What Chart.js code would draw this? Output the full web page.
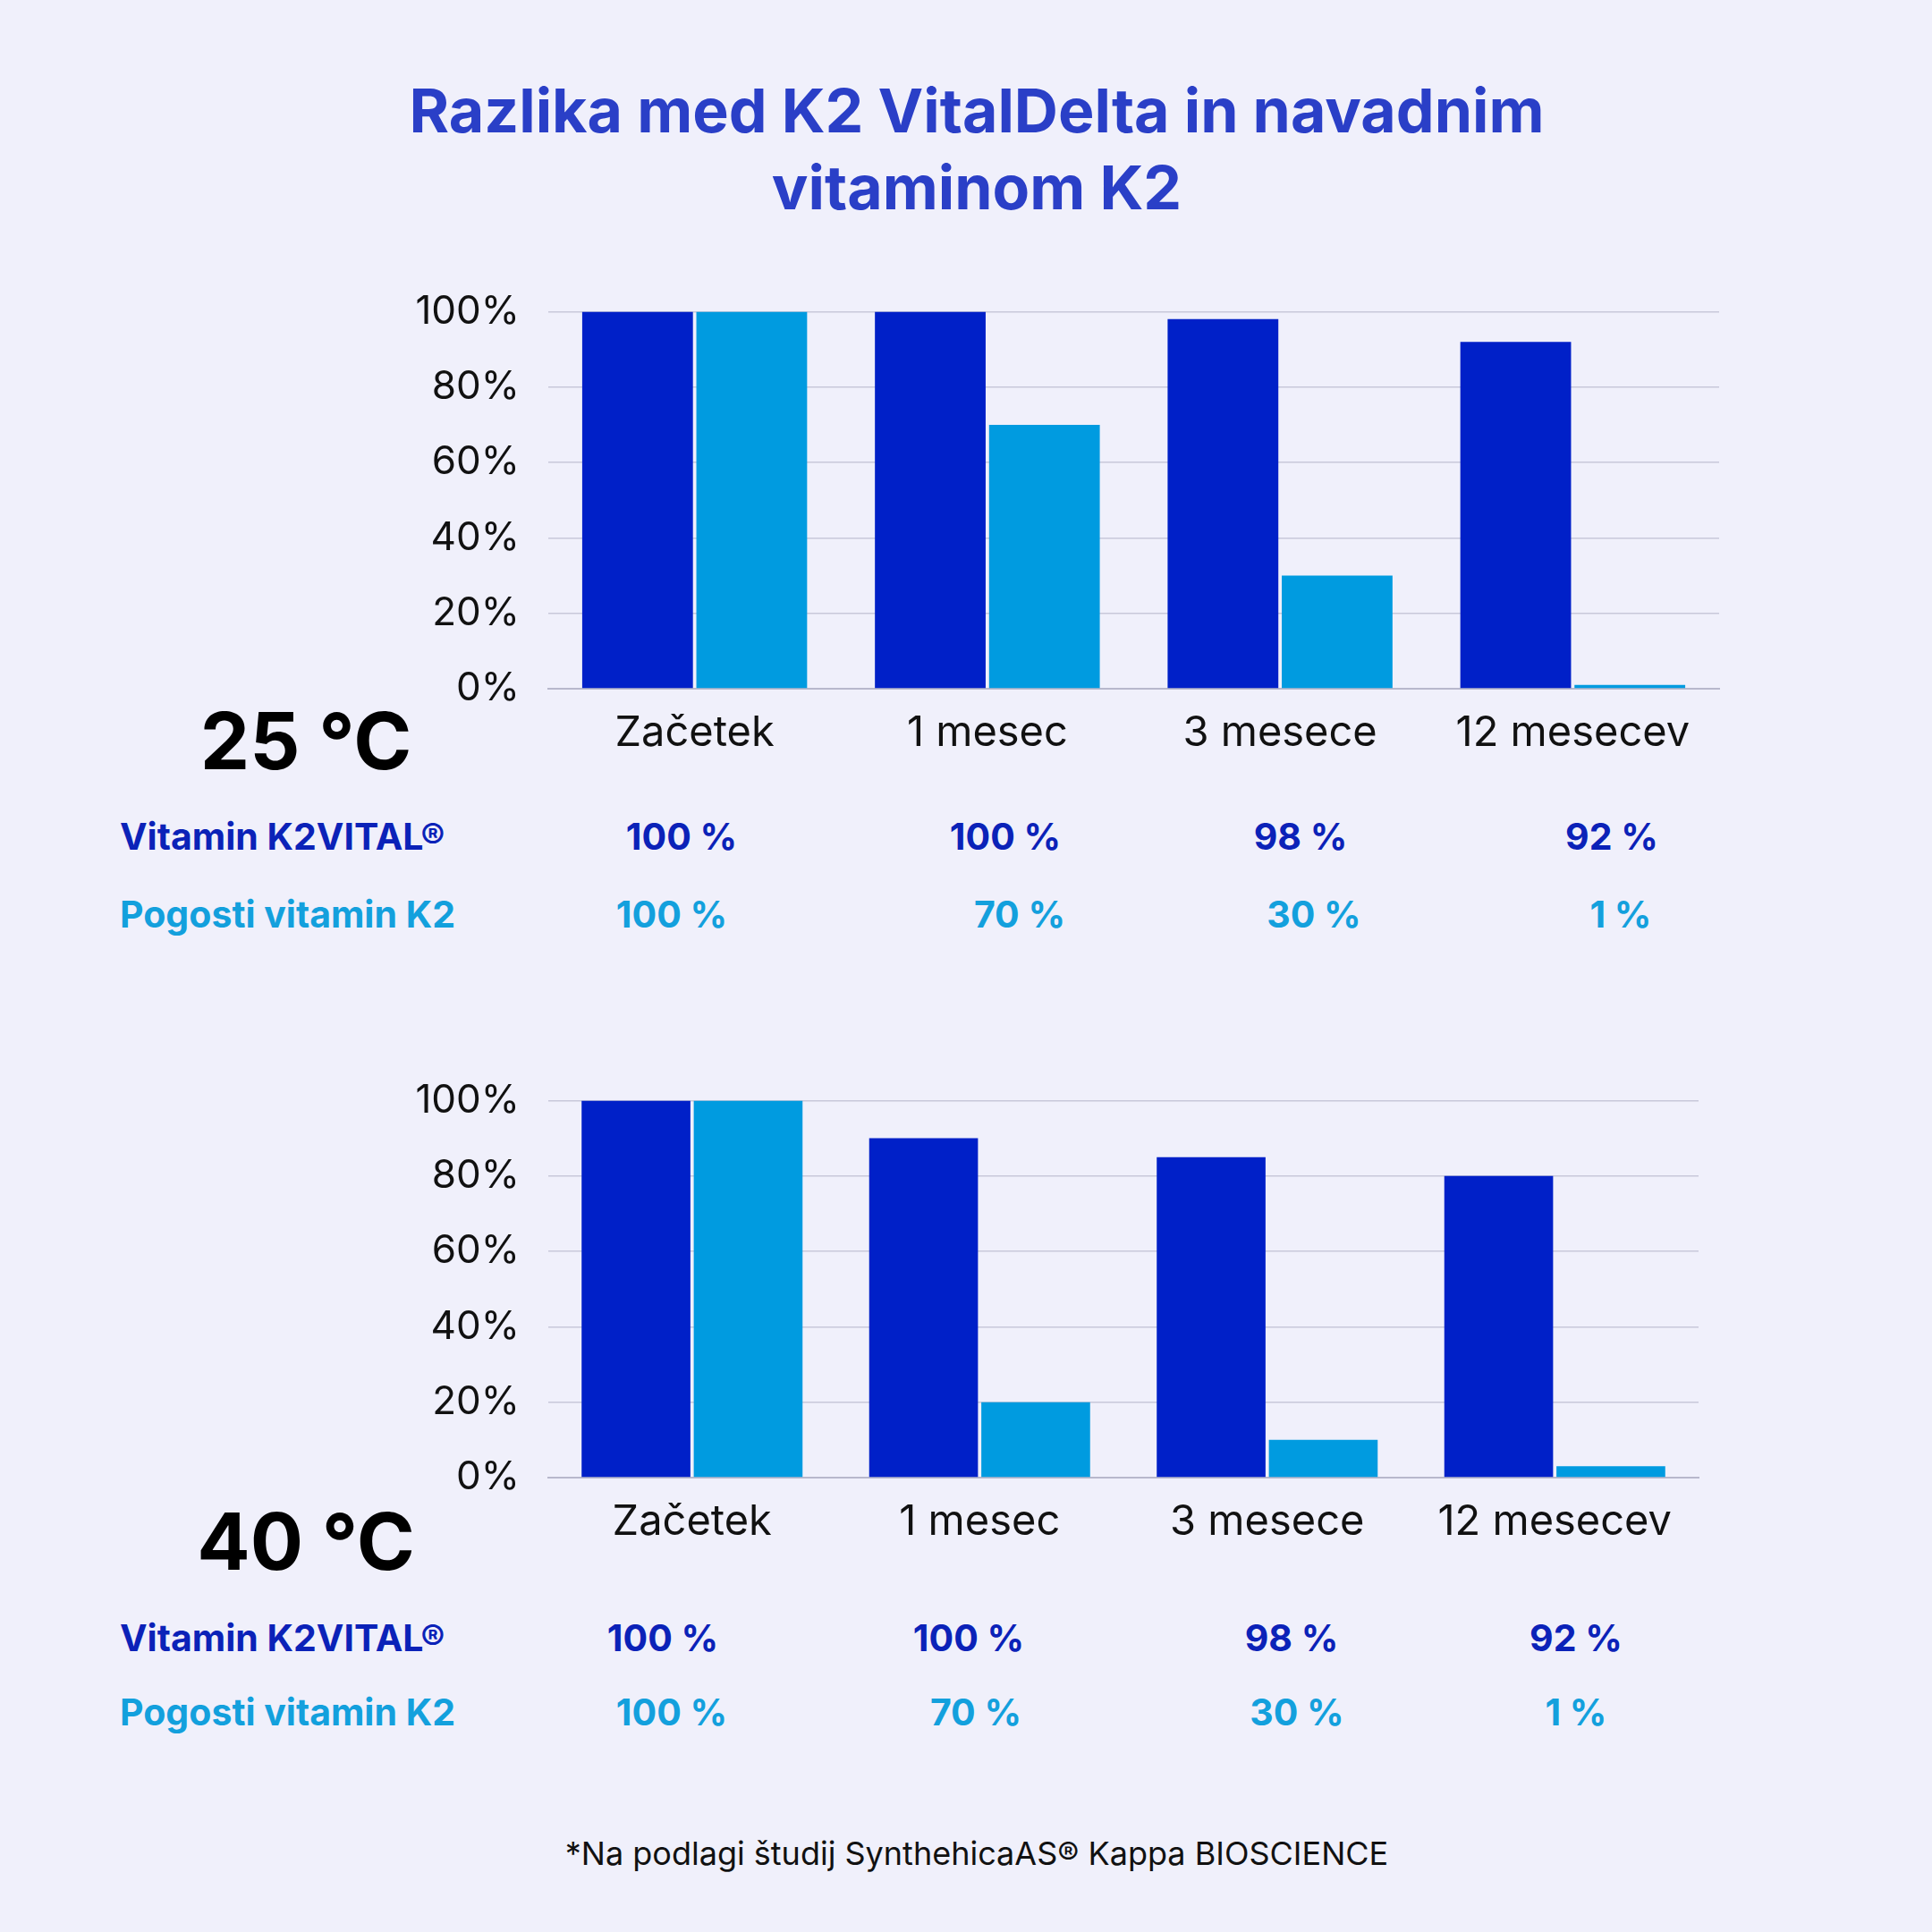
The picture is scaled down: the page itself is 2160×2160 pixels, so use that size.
<!DOCTYPE html>
<html><head><meta charset="utf-8">
<script src="https://cdn.jsdelivr.net/npm/chart.js@4"></script>
<style>
body{margin:0;width:2160px;height:2160px;background:#f0f0fb;position:relative;font-family:Inter,"Open Sans",sans-serif;overflow:hidden}
.t{position:absolute;white-space:nowrap}
.c{transform:translateX(-50%)}
.h{font-weight:700;font-size:41px}
.d{color:#0b22b8}.l{color:#13a0dd}
canvas{position:absolute}
</style></head><body>
<div class="t c" style="left:1092px;top:80px;text-align:center;font-weight:700;font-size:68px;line-height:86px;color:#2a3fc7">Razlika med K2 VitalDelta in navadnim<br>vitaminom K2</div>
<div class="t c" style="left:342px;top:775px;font-weight:700;font-size:88px;color:#000">25 °C</div>
<div class="t c" style="left:342px;top:1670px;font-weight:700;font-size:88px;color:#000">40 °C</div>
<div id="rows"></div>
<div class="t c" style="left:1092px;top:2050px;font-size:36px;color:#111">*Na podlagi študij SynthehicaAS® Kappa BIOSCIENCE</div>
<div style="position:absolute;left:440px;top:290px;width:1500px;height:570px"><canvas id="c1"></canvas></div>
<div style="position:absolute;left:440px;top:1172px;width:1477px;height:570px"><canvas id="c2"></canvas></div>
<script>
const categories=["Začetek","1 mesec","3 mesece","12 mesecev"];
const vital25=[100,100,98,92];
const common25=[100,70,30,1];
const vital40=[100,90,85,80];
const common40=[100,20,10,3];
const yTicks=[0,20,40,60,80,100];
const rowLabels=["Vitamin K2VITAL®","Pogosti vitamin K2"];
const table25Vital=["100 %","100 %","98 %","92 %"];
const table25Common=["100 %","70 %","30 %","1 %"];
const table40Vital=["100 %","100 %","98 %","92 %"];
const table40Common=["100 %","70 %","30 %","1 %"];

const rows=document.getElementById('rows');
function addRow(label,cls,top,vals,xs){
  rows.insertAdjacentHTML('beforeend',`<div class="t h ${cls}" style="left:134px;top:${top}px">${label}</div>`);
  vals.forEach((v,i)=>rows.insertAdjacentHTML('beforeend',`<div class="t h c ${cls}" style="left:${xs[i]}px;top:${top}px">${v}</div>`));
}
addRow(rowLabels[0],'d',910,table25Vital,[762,1124,1454,1802]);
addRow(rowLabels[1],'l',997,table25Common,[751,1140,1469,1812]);
addRow(rowLabels[0],'d',1806,table40Vital,[741,1083,1444,1762]);
addRow(rowLabels[1],'l',1889,table40Common,[751,1091,1450,1762]);

function make(id,a,b){
  new Chart(document.getElementById(id),{type:'bar',
    data:{labels:categories,datasets:[
      {data:a,backgroundColor:'#0020c8',categoryPercentage:0.78,barPercentage:0.97},
      {data:b,backgroundColor:'#009be0',categoryPercentage:0.78,barPercentage:0.97}]},
    options:{responsive:true,maintainAspectRatio:false,animation:false,
      layout:{padding:{top:24,right:18}},
      plugins:{legend:{display:false},tooltip:{enabled:false}},
      scales:{
        x:{grid:{display:false},border:{color:'#b8b8cc',width:2},
           ticks:{color:'#111',font:{family:'Inter',size:47},padding:14},
           afterFit:s=>{s.height=90}},
        y:{min:0,max:100,afterBuildTicks:s=>{s.ticks=yTicks.map(v=>({value:v}))},
           grid:{color:'#c8c8da',lineWidth:1.5,drawTicks:false},border:{display:false},
           ticks:{color:'#111',font:{family:'Inter',size:44},padding:32,callback:v=>v+'%'},
           afterFit:s=>{s.width=173}}}}});
}
make('c1',vital25,common25);
make('c2',vital40,common40);
</script></body></html>
